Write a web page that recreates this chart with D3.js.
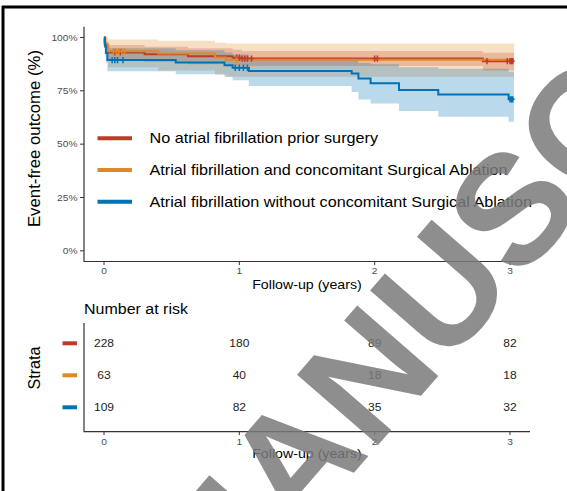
<!DOCTYPE html>
<html>
<head>
<meta charset="utf-8">
<script src="https://cdn.jsdelivr.net/npm/d3@7"></script>
<style>
  html, body { margin: 0; padding: 0; background: #fff; }
  svg { display: block; font-family: "Liberation Sans", Arial, sans-serif; }
</style>
</head>
<body>
<div id="chart"></div>
<script>
// ---- data -------------------------------------------------------------
const groupNames = [
  "No atrial fibrillation prior surgery",
  "Atrial fibrillation and concomitant Surgical Ablation",
  "Atrial fibrillation without concomitant Surgical Ablation"
];
const groupColors = ["#BC3C29", "#E18727", "#0072B5"];

const yearTicks = [0, 1, 2, 3];
const pctTicks = [0, 0.25, 0.5, 0.75, 1];
const followUpEnd = 3.03;

// Kaplan-Meier steps, no AF prior surgery
const noAfTime   = [0, 0.004, 0.01, 0.03, 0.3, 0.62, 0.95, 1.02, 2.8];
const noAfSurv   = [1, 0.975, 0.955, 0.93, 0.921, 0.912, 0.905, 0.901, 0.889];
const noAfLower  = [1, 0.955, 0.93, 0.895, 0.885, 0.875, 0.868, 0.866, 0.845];
const noAfUpper  = [1, 0.995, 0.98, 0.965, 0.957, 0.95, 0.942, 0.936, 0.928];
const noAfCensor = [0.08, 0.12, 0.98, 1.0, 1.02, 1.04, 1.06, 1.09, 2.0, 2.02, 2.83, 2.98, 3.0, 3.01, 3.02];

// Kaplan-Meier steps, AF with concomitant surgical ablation
const afSaTime   = [0, 0.01, 0.03, 0.4, 0.82, 0.9];
const afSaSurv   = [1, 0.968, 0.935, 0.925, 0.906, 0.895];
const afSaLower  = [1, 0.91, 0.86, 0.845, 0.825, 0.816];
const afSaUpper  = [1, 0.998, 0.99, 0.985, 0.975, 0.972];
const afSaCensor = [0.07, 0.09, 0.11, 0.13, 0.15, 0.98];

// Kaplan-Meier steps, AF without concomitant surgical ablation
const afNoSaTime   = [0, 0.006, 0.014, 0.025, 0.53, 0.89, 0.95, 1.07, 1.83, 1.88, 1.97, 2.18, 2.47, 2.99];
const afNoSaSurv   = [1, 0.963, 0.927, 0.894, 0.883, 0.87, 0.858, 0.843, 0.831, 0.808, 0.786, 0.754, 0.733, 0.71];
const afNoSaLower  = [1, 0.93, 0.88, 0.842, 0.828, 0.816, 0.8, 0.772, 0.745, 0.709, 0.69, 0.655, 0.628, 0.605];
const afNoSaUpper  = [1, 1, 0.975, 0.95, 0.94, 0.93, 0.92, 0.905, 0.895, 0.88, 0.875, 0.86, 0.853, 0.839];
const afNoSaCensor = [0.06, 0.08, 0.1, 0.14, 0.97, 1.0, 1.03, 1.06, 3.0, 3.01, 3.02];

// number at risk
const riskNoAf   = [228, 180, 89, 82];
const riskAfSa   = [63, 40, 18, 18];
const riskAfNoSa = [109, 82, 35, 32];

// ---- assemble series --------------------------------------------------
function steps(time, surv, lower, upper) {
  const rows = time.map((t, i) => ({ t, s: surv[i], lo: lower[i], hi: upper[i] }));
  const last = rows[rows.length - 1];
  rows.push({ t: followUpEnd, s: last.s, lo: last.lo, hi: last.hi });
  return rows;
}
const series = [
  { name: groupNames[0], color: groupColors[0], rows: steps(noAfTime, noAfSurv, noAfLower, noAfUpper), censor: noAfCensor, risk: riskNoAf },
  { name: groupNames[1], color: groupColors[1], rows: steps(afSaTime, afSaSurv, afSaLower, afSaUpper), censor: afSaCensor, risk: riskAfSa },
  { name: groupNames[2], color: groupColors[2], rows: steps(afNoSaTime, afNoSaSurv, afNoSaLower, afNoSaUpper), censor: afNoSaCensor, risk: riskAfNoSa }
];
function survAt(rows, t) {
  let v = rows[0].s;
  for (const r of rows) if (r.t <= t) v = r.s;
  return v;
}

// ---- drawing ----------------------------------------------------------
const W = 567, H = 491;
const FONT = '"Liberation Sans", Arial, sans-serif';
const SY = 0.87; // vertical text scale of the figure

const svg = d3.select("#chart").append("svg").attr("width", W).attr("height", H);

// frame
svg.append("path").attr("d", "M2,7H567M3,6V491")
  .attr("fill", "none").attr("stroke", "#000").attr("stroke-width", 3);

function label(parent, x, y, str, size, opt = {}) {
  const g = parent.append("g").attr("transform", `translate(${x},${y}) scale(1,${opt.sy ?? SY})`);
  return g.append("text").text(str)
    .attr("font-size", size)
    .attr("fill", opt.fill || "#000")
    .attr("text-anchor", opt.anchor || "start");
}

const x = d3.scaleLinear().domain([-0.148, 3.148]).range([84, 530]);
const y = d3.scaleLinear().domain([-0.05, 1.05]).range([261.5, 26.8]);

// confidence bands
const band = d3.area().curve(d3.curveStepAfter)
  .x(d => x(d.t)).y0(d => y(d.lo)).y1(d => y(d.hi));
svg.append("g").selectAll("path").data(series).join("path")
  .attr("d", d => band(d.rows))
  .attr("fill", d => d.color).attr("fill-opacity", 0.27);

// survival curves
const line = d3.line().curve(d3.curveStepAfter).x(d => x(d.t)).y(d => y(d.s));
svg.append("g").selectAll("path").data(series).join("path")
  .attr("d", d => line(d.rows))
  .attr("fill", "none").attr("stroke", d => d.color).attr("stroke-width", 2);

// censoring marks
series.forEach(sr => {
  svg.append("g").selectAll("path").data(sr.censor).join("path")
    .attr("d", t => { const cx = x(t), cy = y(survAt(sr.rows, t)); return `M${cx - 2},${cy}H${cx + 2}M${cx},${cy - 3.2}V${cy + 3.2}`; })
    .attr("stroke", sr.color).attr("stroke-width", 1.5).attr("fill", "none");
});

// axes
const axisColor = "#333";
const tickTextColor = "#4d4d4d";
svg.append("path").attr("d", `M${x.range()[0]},${y.range()[1]}V${y.range()[0]}H${x.range()[1]}`)
  .attr("fill", "none").attr("stroke", axisColor).attr("stroke-width", 1.2);
pctTicks.forEach(p => {
  svg.append("line").attr("x1", 80).attr("x2", 84).attr("y1", y(p)).attr("y2", y(p))
    .attr("stroke", axisColor).attr("stroke-width", 1);
  label(svg, 77.5, y(p) + 3.2, d3.format(".0%")(p), 10.2, { anchor: "end", fill: tickTextColor });
});
yearTicks.forEach(t => {
  svg.append("line").attr("x1", x(t)).attr("x2", x(t)).attr("y1", 261.5).attr("y2", 265)
    .attr("stroke", axisColor).attr("stroke-width", 1);
  label(svg, x(t), 274, t, 10.2, { anchor: "middle", fill: tickTextColor });
});
label(svg, 307, 288.5, "Follow-up (years)", 14.2, { anchor: "middle" });
svg.append("text").attr("transform", "translate(40,138.5) rotate(-90)")
  .attr("text-anchor", "middle").attr("font-size", 16.8).text("Event-free outcome (%)");

// legend
const legendY = [138.3, 170, 201.7];
series.forEach((sr, i) => {
  svg.append("line").attr("x1", 97.5).attr("x2", 132).attr("y1", legendY[i]).attr("y2", legendY[i])
    .attr("stroke", sr.color).attr("stroke-width", 4);
  label(svg, 149.5, legendY[i] + 5, sr.name, 16.2);
});

// ---- risk table -------------------------------------------------------
label(svg, 84, 314, "Number at risk", 16);
const rowY = d3.scalePoint().domain(groupNames).range([343.3, 407.3]);
svg.append("path").attr("d", `M84,323V431.7H530`).attr("fill", "none")
  .attr("stroke", axisColor).attr("stroke-width", 1.2);
yearTicks.forEach(t => {
  svg.append("line").attr("x1", x(t)).attr("x2", x(t)).attr("y1", 431.7).attr("y2", 435)
    .attr("stroke", axisColor).attr("stroke-width", 1);
  label(svg, x(t), 444.5, t, 10.2, { anchor: "middle", fill: tickTextColor });
});
series.forEach(sr => {
  const ry = rowY(sr.name);
  svg.append("line").attr("x1", 62.5).attr("x2", 77).attr("y1", ry).attr("y2", ry)
    .attr("stroke", sr.color).attr("stroke-width", 4);
  sr.risk.forEach((n, j) => label(svg, x(yearTicks[j]), ry + 3.8, n, 12, { anchor: "middle", fill: "#222" }));
});
label(svg, 307, 457.5, "Follow-up (years)", 14.2, { anchor: "middle" });
svg.append("text").attr("transform", "translate(40,368) rotate(-90)")
  .attr("text-anchor", "middle").attr("font-size", 16.2).text("Strata");

// journal watermark across the figure
svg.append("text")
  .attr("transform", "translate(212,636) rotate(-49)")
  .attr("font-size", 156).attr("font-weight", "bold")
  .attr("fill", "#7a7a7a").attr("fill-opacity", 0.85)
  .attr("font-family", FONT)
  .text("MANUSCRIPT");
</script>
</body>
</html>
